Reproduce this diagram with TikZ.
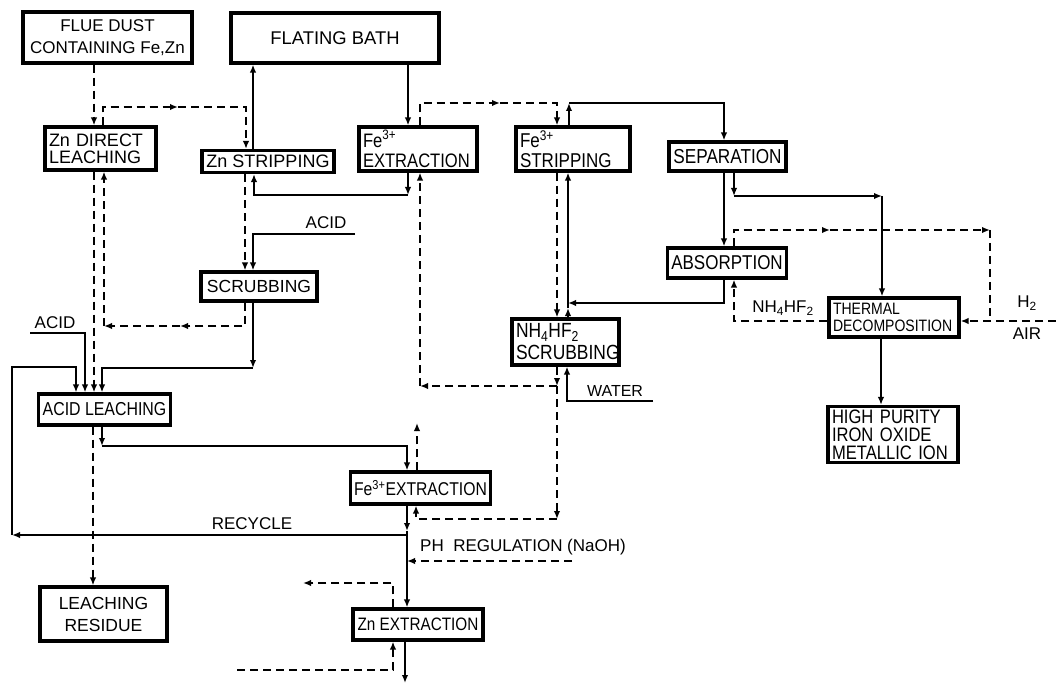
\documentclass[tikz,border=0pt]{standalone}
\usepackage{fontspec}
\setmainfont{Liberation Sans}
\newfontfamily\nar[FakeStretch=0.85]{Liberation Sans}
\usetikzlibrary{arrows.meta}
\begin{document}
\begin{tikzpicture}[x=1pt,y=-1pt,
  box/.style={draw,line width=3.2pt,inner xsep=4pt,inner ysep=0pt,align=center},
  lbox/.style={box,align=left},
  f/.style 2 args={font=\fontsize{#1}{#2}\selectfont},
  n/.style 2 args={font=\nar\fontsize{#1}{#2}\selectfont},
  ln/.style={line width=1.6pt},
  dsh/.style={line width=1.6pt,dash pattern=on 8pt off 5pt},
  lab/.style={inner sep=0pt},
  >={Latex[length=8pt,width=6.5pt]}]
\useasboundingbox (0,0) rectangle (1056,684);
% boxes
\node[box,f={17}{22},minimum width=169pt,minimum height=51pt] (flue) at (107.5,37.5) {FLUE DUST\\CONTAINING Fe,Zn};
\node[box,f={18.4}{20},minimum width=208pt,minimum height=50pt] (bath) at (335,38) {FLATING BATH};
\node[lbox,f={18}{17},text width=103pt,minimum height=43pt] (zndl) at (100.5,148.5) {Zn DIRECT\\LEACHING};
\node[box,f={18}{18},minimum width=132pt,minimum height=22pt] (znst) at (268,161.5) {Zn STRIPPING};
\node[lbox,n={19.5}{20},text width=110pt,minimum height=44pt] (fe3x) at (418,149) {Fe\textsuperscript{3+}\\EXTRACTION};
\node[lbox,n={20}{20},text width=106pt,minimum height=44pt] (fe3s) at (573,149) {Fe\textsuperscript{3+}\\STRIPPING};
\node[box,n={20.2}{19},minimum width=117pt,minimum height=29pt] (sep) at (727.5,156.5) {SEPARATION};
\node[box,n={20}{20},minimum width=116pt,minimum height=30pt] (abs) at (727,263) {ABSORPTION};
\node[lbox,n={16.5}{17},text width=122pt,minimum height=39pt] (therm) at (894,317.5) {THERMAL\\DECOMPOSITION};
\node[lbox,n={19.5}{18},text width=122pt,minimum height=56pt] (high) at (893,434.5) {HIGH PURITY\\IRON OXIDE\\METALLIC ION};
\node[lbox,n={20.5}{22},text width=99pt,minimum height=46pt] (nh4s) at (565.5,342) {NH\textsubscript{4}HF\textsubscript{2}\\SCRUBBING};
\node[box,f={17.5}{18},minimum width=116pt,minimum height=29pt] (scrub) at (259,286.5) {SCRUBBING};
\node[box,n={18.7}{18},minimum width=127pt,minimum height=31pt] (aleach) at (104.5,409.5) {ACID LEACHING};
\node[box,f={17.5}{22},minimum width=127pt,minimum height=54pt] (resid) at (103.5,614) {LEACHING\\RESIDUE};
\node[box,n={18.5}{18},minimum width=131pt,minimum height=32pt] (fe3x2) at (420.5,488) {Fe\textsuperscript{3+}EXTRACTION};
\node[box,n={18}{18},minimum width=130pt,minimum height=31pt] (znx) at (418,624.5) {Zn EXTRACTION};
% labels
\node[lab,f={17}{17}] (acidA) at (326,223) {ACID};
\node[lab,f={17}{17}] (acidB) at (55,323) {ACID};
\node[lab,f={17}{17}] (recy) at (252,524) {RECYCLE};
\node[lab,f={17}{17}] (phreg) at (523,547) {PH\ \ REGULATION (NaOH)};
\node[lab,f={16}{16}] (wat) at (615,391) {WATER};
\node[lab,f={17}{17}] (nhlab) at (783,308) {NH\textsubscript{4}HF\textsubscript{2}};
\node[lab,f={17}{17}] (h2) at (1027,303) {H\textsubscript{2}};
\node[lab,f={17}{17}] (air) at (1027,334) {AIR};
% free ends
\coordinate (acid1) at (355,234);
\coordinate (acid2) at (30,333);
\coordinate (water) at (653,401);
\coordinate (h2in) at (1056,321);
\coordinate (fe3out) at (417,423);
\coordinate (ph) at (572,561);
\coordinate (znxout) at (303,583);
\coordinate (znxin) at (237,670);
\coordinate (znxbot) at (405,683);
% connectors
\draw[dsh,->] (flue.south -| 94,0) -- (zndl.north -| 94,0);
\draw[dsh,->] (zndl.north -| 103,0) |- (178,107);
\draw[dsh,->] (178,107) -| (znst.north -| 246,0);
\draw[ln,->] (znst.north -| 253,0) -- (bath.south -| 253,0);
\draw[ln,->] (bath.south -| 408,0) -- (fe3x.north -| 408,0);
\draw[ln,->] (fe3x.south -| 408,0) -- (408,195);
\draw[ln,->] (408,195) -| (znst.south -| 254,0);
\draw[dsh,->] (fe3x.north -| 420,0) |- (500,103);
\draw[dsh,->] (500,103) -| (fe3s.north -| 557,0);
\draw[ln,->] (fe3s.north -| 569,0) -- (569,103);
\draw[ln,->] (569,103) -| (sep.north -| 724,0);
\draw[ln,->] (sep.south -| 724,0) -- (abs.north -| 724,0);
\draw[ln,->] (sep.south -| 734,0) -- (734,196);
\draw[ln,->] (734,196) -- (882,196);
\draw[ln,->] (882,196) -- (therm.north -| 882,0);
\draw[dsh,->] (abs.north -| 734,0) |- (830,230);
\draw[dsh,->] (830,230) -- (990,230);
\draw[dsh] (990,230) -- (990,321);
\draw[dsh,->] (h2in) -- (therm.east |- h2in);
\draw[dsh,->] (therm.west |- h2in) -| (abs.south -| 734,0);
\draw[ln,->] (therm.south -| 881,0) -- (high.north -| 881,0);
\draw[ln,->] (abs.south -| 724,0) |- (568,303);
\draw[ln,->] (nh4s.north -| 568,0) -- (568,308);
\draw[ln,->] (568,308) -- (fe3s.south -| 568,0);
\draw[ln,->] (water) -| (nh4s.south -| 567,0);
\draw[dsh,->] (fe3s.south -| 557,0) -- (nh4s.north -| 557,0);
\draw[dsh,->] (nh4s.south -| 557,0) -- (557,386);
\draw[dsh,->] (557,386) -- (420,386);
\draw[dsh,->] (420,386) -- (fe3x.south -| 420,0);
\draw[dsh,->] (557,386) -- (557,519);
\draw[dsh,->] (557,519) -| (fe3x2.south -| 416,0);
\draw[dsh,->] (fe3x2.north -| 417,0) -- (fe3out);
\draw[ln,->] (aleach.south -| 102,0) -- (102,446);
\draw[ln,->] (102,446) -| (fe3x2.north -| 407,0);
\draw[ln,->] (fe3x2.south -| 407,0) -- (407,531);
\draw[ln,->] (407,531) -- (znx.north -| 407,0);
\draw[ln,->] (407,535) -- (12,535);
\draw[ln,->] (12,535) |- (76,367) -- (aleach.north -| 76,0);
\draw[ln,->] (acid2) -| (aleach.north -| 85,0);
\draw[dsh,->] (zndl.south -| 94,0) -- (aleach.north -| 94,0);
\draw[dsh,->] (scrub.south -| 245,0) |- (180,326);
\draw[dsh,->] (180,326) -- (104,326);
\draw[dsh,->] (104,326) -- (zndl.south -| 104,0);
\draw[dsh,->] (znst.south -| 245,0) -- (scrub.north -| 245,0);
\draw[ln,->] (acid1) -| (scrub.north -| 253,0);
\draw[ln,->] (scrub.south -| 253,0) -- (253,368);
\draw[ln,->] (253,368) -| (aleach.north -| 102,0);
\draw[dsh,->] (aleach.south -| 93,0) -- (resid.north -| 93,0);
\draw[dsh,->] (ph) -- (407,561);
\draw[dsh,->] (znx.north -| 393,0) |- (znxout);
\draw[dsh,->] (znxin) -| (znx.south -| 393,0);
\draw[ln,->] (znx.south -| 405,0) -- (znxbot);
\end{tikzpicture}
\end{document}
